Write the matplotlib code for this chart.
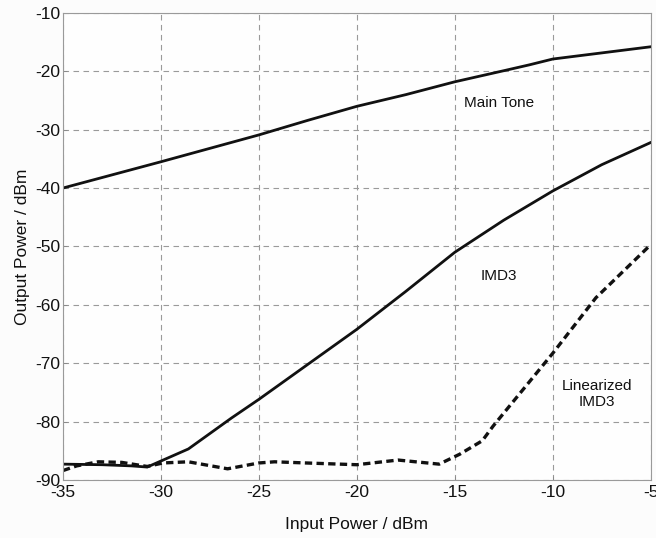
import matplotlib
matplotlib.use("Agg")
import matplotlib.pyplot as plt

plt.rcParams["font.family"] = ["Liberation Sans", "DejaVu Sans"]
plt.rcParams["axes.unicode_minus"] = False

# Main tone output power
main_in = [-35, -30, -27.5, -25, -22.5, -20, -17.5, -15, -12.5, -11.2, -10, -7.5, -5]
main_out = [-40.0, -35.5, -33.2, -30.9, -28.4, -26.0, -24.0, -21.8, -19.9, -18.9, -17.9, -16.85, -15.8]

# Third-order intermodulation, no linearization
imd3_in = [-35, -33, -31.5, -30.7, -28.6, -26.4, -25, -20, -17.5, -15, -12.5, -10, -7.5, -5]
imd3_out = [-87.3, -87.4, -87.6, -87.8, -84.7, -79.4, -76.2, -64.2, -57.7, -51.0, -45.5, -40.5, -36.0, -32.2]

# Third-order intermodulation with linearization
lin_in = [-35, -34.3, -33.2, -32, -30.7, -29.9, -28.6, -26.6, -25, -24.2, -22.6, -20,
          -17.9, -15.8, -14.75, -13.6, -13.05, -10, -7.8, -5]
lin_out = [-88.4, -87.6, -86.9, -87.0, -87.7, -87.1, -86.9, -88.1, -87.1, -86.9, -87.1, -87.4,
           -86.6, -87.3, -85.6, -83.3, -80.8, -68.3, -58.8, -49.7]

x_ticks = [-35, -30, -25, -20, -15, -10, -5]
y_ticks = [-90, -80, -70, -60, -50, -40, -30, -20, -10]

fig = plt.figure(figsize=(6.56, 5.38), dpi=100, facecolor="#fcfcfc")
ax = fig.add_axes([0.096, 0.108, 0.896, 0.868])
ax.set_facecolor("#fefefe")

ax.plot(main_in, main_out, color="#111111", lw=2.0)
ax.plot(imd3_in, imd3_out, color="#111111", lw=2.0)
ax.plot(lin_in, lin_out, color="#111111", lw=2.4, ls=(0, (2.2, 1.3)))

ax.set_xlim(-35, -5)
ax.set_ylim(-90, -10)
ax.set_xticks(x_ticks)
ax.set_yticks(y_ticks)
ax.set_xticklabels([str(v) for v in x_ticks])
ax.set_yticklabels([str(v) for v in y_ticks])
ax.tick_params(direction="in", length=3, width=0.6, colors="#888888",
               labelcolor="#111111", labelsize=12.5)
ax.tick_params(axis="x", pad=4)
ax.tick_params(axis="y", pad=2)
ax.grid(True, color="#9a9a9a", ls=(0, (5, 4)), lw=0.8)
for s in ax.spines.values():
    s.set_color("#9a9a9a")
    s.set_linewidth(0.8)

ax.set_xlabel("Input Power / dBm", fontsize=12.5, labelpad=12, color="#111111")
ax.set_ylabel("Output Power / dBm", fontsize=12.5, labelpad=4, color="#111111")

ax.text(-12.75, -25.4, "Main Tone", fontsize=11, ha="center", va="center", color="#111111")
ax.text(-12.75, -55.0, "IMD3", fontsize=11, ha="center", va="center", color="#111111")
ax.text(-7.75, -75.3, "Linearized\nIMD3", fontsize=11, ha="center", va="center",
        color="#111111", linespacing=1.15)

fig.savefig("out.png", dpi=100, facecolor=fig.get_facecolor())
